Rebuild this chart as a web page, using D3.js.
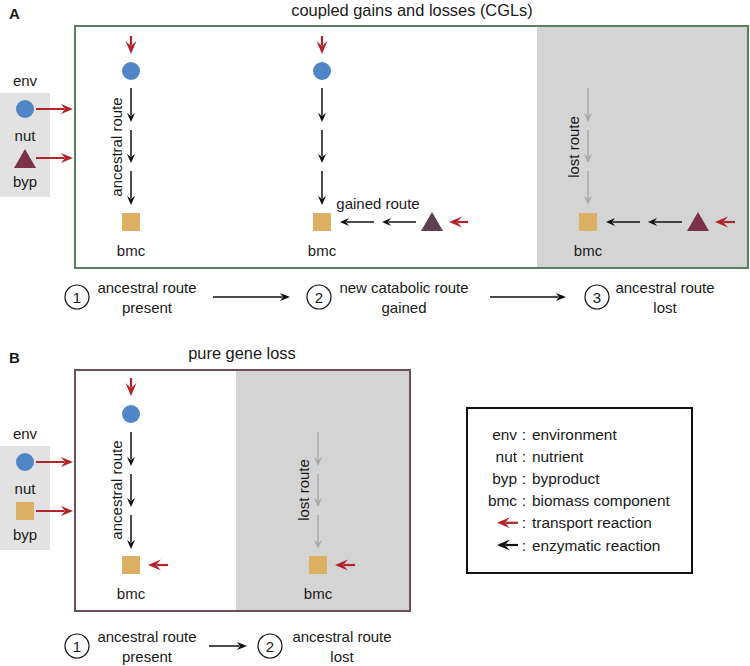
<!DOCTYPE html>
<html><head><meta charset="utf-8">
<script src="https://cdn.jsdelivr.net/npm/d3@7"></script>
<style>
body{margin:0;background:#fff}
text{font-family:"Liberation Sans",Arial,sans-serif;font-size:15px;fill:#1a1a1a}
</style>
</head><body><svg id="c" width="750" height="666"></svg>
<script>
// ---- data ----
const panelLabels = ["A", "B"];
const panelTitles = ["coupled gains and losses (CGLs)", "pure gene loss"];
const envLabels = ["env", "nut", "byp"];
const stepNumbers = ["1", "2", "3"];
const stepsA = [["ancestral route", "present"], ["new catabolic route", "gained"], ["ancestral route", "lost"]];
const stepsB = [["ancestral route", "present"], ["ancestral route", "lost"]];
const routeLabels = ["ancestral route", "gained route", "lost route"];
const nodeLabel = "bmc";
const legendKeys = ["env", "nut", "byp", "bmc", "", ""];
const legendDescs = ["environment", "nutrient", "byproduct", "biomass component", "transport reaction", "enzymatic reaction"];
const legendArrowColors = ["", "", "", "", "red", "black"];

// ---- styles ----
const C = {
  red: "#b2242b", blue: "#4f86c8", tri: "#7a3249", tri2: "#5f4050", sq: "#dcb062",
  lostBg: "#d4d4d4", envBg: "#e2e2e2", lostArrow: "#a9a9a9", greenBox: "#5a7e60", brownBox: "#6f505a"
};

const svg = d3.select("#c");

function arrow(g, x1, y1, x2, y2, color, o = {}) {
  const L = o.L || 9, W = o.W || 4, N = o.N || 6, sw = o.sw || 1.5;
  const dx = x2 - x1, dy = y2 - y1, len = Math.hypot(dx, dy);
  const ux = dx / len, uy = dy / len, px = -uy, py = ux;
  g.append("line").attr("x1", x1).attr("y1", y1)
    .attr("x2", x2 - ux * (N + 0.5)).attr("y2", y2 - uy * (N + 0.5))
    .attr("stroke", color).attr("stroke-width", sw);
  const pts = [[x2, y2], [x2 - L * ux + W * px, y2 - L * uy + W * py], [x2 - N * ux, y2 - N * uy], [x2 - L * ux - W * px, y2 - L * uy - W * py]];
  g.append("path").attr("d", d3.line()(pts) + "Z").attr("fill", color);
}
const redOpt = { L: 13, W: 5.5, N: 8, sw: 2.2 };
const envOpt = { L: 12, W: 5, N: 8, sw: 2 };

function circle(g, x, y) { g.append("circle").attr("cx", x).attr("cy", y).attr("r", 9).attr("fill", C.blue); }
function square(g, x, y) { g.append("rect").attr("x", x - 9).attr("y", y - 9).attr("width", 18).attr("height", 18).attr("fill", C.sq); }
function triangle(g, x, y, col) {
  g.append("path").attr("d", d3.line()([[x, y - 10], [x + 11, y + 9], [x - 11, y + 9]]) + "Z").attr("fill", col || C.tri);
}
function label(g, x, y, t, o = {}) {
  const el = g.append("text").attr("x", x).attr("y", y).attr("text-anchor", o.anchor || "middle")
    .attr("dominant-baseline", "central").text(t);
  if (o.rot) el.attr("transform", `rotate(-90,${x},${y})`);
  if (o.bold) el.style("font-weight", "bold");
  if (o.size) el.style("font-size", o.size + "px");
  return el;
}
function vChain(g, x, y0, color) {
  const segs = [[0, 34], [42, 75], [83, 117]];
  segs.forEach(s => arrow(g, x, y0 + s[0], x, y0 + s[1], color));
}
function envBox(g, y0, byShape) {
  g.append("rect").attr("x", 0).attr("y", y0).attr("width", 50).attr("height", 104).attr("fill", C.envBg);
  label(g, 25, y0 - 13, envLabels[0]);
  circle(g, 25, y0 + 16);
  label(g, 25, y0 + 42, envLabels[1]);
  if (byShape === "tri") triangle(g, 25, y0 + 66); else square(g, 25, y0 + 65);
  label(g, 25, y0 + 88, envLabels[2]);
  arrow(g, 36, y0 + 16, 73, y0 + 16, C.red, envOpt);
  arrow(g, 36, y0 + 65, 73, y0 + 65, C.red, envOpt);
}
function stepRow(g, y, xs, steps, arrows) {
  steps.forEach((s, i) => {
    g.append("circle").attr("cx", xs[i][0]).attr("cy", y).attr("r", 12).attr("fill", "none").attr("stroke", "#111").attr("stroke-width", 1.2);
    label(g, xs[i][0], y, stepNumbers[i]);
    label(g, xs[i][1], y - 10, s[0]);
    label(g, xs[i][1], y + 10, s[1]);
  });
  arrows.forEach(a => arrow(g, a[0], y, a[1], y, "#111", { L: 10, W: 4, N: 7, sw: 1.5 }));
}

// ---- Panel A ----
const gA = svg.append("g");
label(gA, 9, 13, panelLabels[0], { bold: true, anchor: "start" });
label(gA, 412, 10, panelTitles[0], { size: 16.4 });
gA.append("rect").attr("x", 537).attr("y", 26).attr("width", 211).attr("height", 242).attr("fill", C.lostBg);
gA.append("rect").attr("x", 75).attr("y", 26).attr("width", 673).attr("height", 242).attr("fill", "none").attr("stroke", C.greenBox).attr("stroke-width", 2);
envBox(gA, 93, "tri");
// column 1
arrow(gA, 131, 36, 131, 54, C.red, redOpt);
circle(gA, 131, 71);
vChain(gA, 131, 88, "#111");
square(gA, 131, 222);
label(gA, 131, 250, nodeLabel);
label(gA, 116, 147, routeLabels[0], { rot: true });
// column 2
arrow(gA, 322, 36, 322, 54, C.red, redOpt);
circle(gA, 322, 71);
vChain(gA, 322, 88, "#111");
square(gA, 322, 222);
label(gA, 322, 250, nodeLabel);
arrow(gA, 374, 222, 340, 222, "#111");
arrow(gA, 416, 222, 382, 222, "#111");
triangle(gA, 432, 222, C.tri2);
arrow(gA, 468, 222, 449, 222, C.red, redOpt);
label(gA, 378, 203, routeLabels[1]);
// column 3
vChain(gA, 588, 88, C.lostArrow);
square(gA, 588, 222);
label(gA, 588, 250, nodeLabel);
arrow(gA, 640, 222, 606, 222, "#111");
arrow(gA, 682, 222, 648, 222, "#111");
triangle(gA, 698, 222);
arrow(gA, 735, 222, 715, 222, C.red, redOpt);
label(gA, 573, 147, routeLabels[2], { rot: true });
stepRow(gA, 297, [[77, 147], [319, 404], [597, 665]], stepsA, [[213, 290], [490, 566]]);

// ---- Panel B ----
const gB = svg.append("g");
label(gB, 9, 357, panelLabels[1], { bold: true, anchor: "start" });
label(gB, 242, 353, panelTitles[1], { size: 16.4 });
gB.append("rect").attr("x", 236).attr("y", 370).attr("width", 174).attr("height", 241).attr("fill", C.lostBg);
gB.append("rect").attr("x", 75).attr("y", 370).attr("width", 335).attr("height", 241).attr("fill", "none").attr("stroke", C.brownBox).attr("stroke-width", 2);
envBox(gB, 446, "sq");
arrow(gB, 131, 378, 131, 396, C.red, redOpt);
circle(gB, 131, 414);
vChain(gB, 131, 432, "#111");
square(gB, 131, 565);
arrow(gB, 168, 565, 148, 565, C.red, redOpt);
label(gB, 131, 593, nodeLabel);
label(gB, 116, 490, routeLabels[0], { rot: true });
vChain(gB, 318, 432, C.lostArrow);
square(gB, 318, 565);
arrow(gB, 355, 565, 335, 565, C.red, redOpt);
label(gB, 318, 593, nodeLabel);
label(gB, 303, 490, routeLabels[2], { rot: true });
stepRow(gB, 646, [[77, 147], [270, 342]], stepsB, [[209, 247]]);

// ---- Legend ----
const gL = svg.append("g");
gL.append("rect").attr("x", 467).attr("y", 408).attr("width", 225).attr("height", 165).attr("fill", "none").attr("stroke", "#111").attr("stroke-width", 2);
const ly = d3.scalePoint().domain(d3.range(legendDescs.length)).range([434, 545]);
legendDescs.forEach((d, i) => {
  const y = ly(i);
  if (legendKeys[i]) label(gL, 517, y, legendKeys[i], { anchor: "end", size: 15.4 });
  else arrow(gL, 518, y, 497, y, legendArrowColors[i] === "red" ? C.red : "#111", redOpt);
  label(gL, 524, y, ":", { size: 15.4 });
  label(gL, 532, y, d, { anchor: "start", size: 15.4 });
});
</script></body></html>
